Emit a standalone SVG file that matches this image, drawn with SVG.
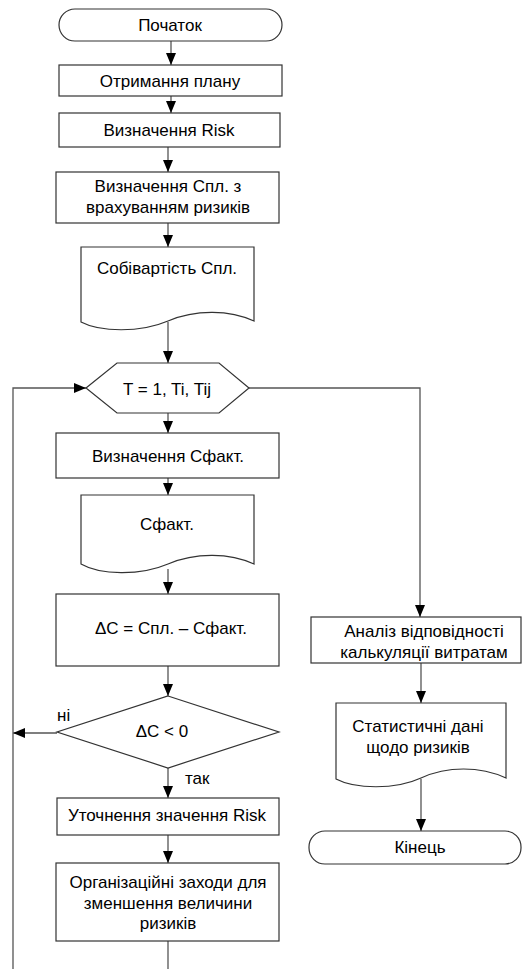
<svg xmlns="http://www.w3.org/2000/svg" width="522" height="969" viewBox="0 0 522 969">
<style>
.s{fill:#fff;stroke:#333;stroke-width:1.2}
.c{fill:none;stroke:#555;stroke-width:1.3}
.t{font-family:"Liberation Sans",Arial,sans-serif;font-size:17px;fill:#000;text-anchor:middle}
.l{font-family:"Liberation Sans",Arial,sans-serif;font-size:17px;fill:#000}
</style>
<defs>
<marker id="a" markerWidth="10" markerHeight="12" refX="10" refY="6" orient="auto" markerUnits="userSpaceOnUse" viewBox="0 0 10 12">
<path d="M0,0 L10,6 L0,12 Z" fill="#000" transform="translate(0,0)"/>
</marker>
<marker id="b" markerWidth="12" markerHeight="10" refX="12" refY="5" orient="auto" markerUnits="userSpaceOnUse" viewBox="0 0 12 10">
<path d="M0,0 L12,5 L0,10 Z" fill="#000"/>
</marker>
</defs>
<g id="connectors">
<path class="c" d="M171,41 V65" marker-end="url(#b)"/>
<path class="c" d="M171,96 V113" marker-end="url(#b)"/>
<path class="c" d="M168,147 V172" marker-end="url(#b)"/>
<path class="c" d="M168,223 V247" marker-end="url(#b)"/>
<path class="c" d="M168,322 V363" marker-end="url(#b)"/>
<path class="c" d="M168,413 V433" marker-end="url(#b)"/>
<path class="c" d="M168,478 V495" marker-end="url(#b)"/>
<path class="c" d="M168,569 V594" marker-end="url(#b)"/>
<path class="c" d="M168,666 V696" marker-end="url(#b)"/>
<path class="c" d="M57,733 H13" marker-end="url(#b)"/>
<path class="c" d="M168,768 V798" marker-end="url(#b)"/>
<path class="c" d="M168,835 V863" marker-end="url(#b)"/>
<path class="c" d="M168,941 V969"/>
<path class="c" d="M13,969 V388 H86" marker-end="url(#b)"/>
<path class="c" d="M249,388 H420 V617" marker-end="url(#b)"/>
<path class="c" d="M421,663 V703" marker-end="url(#b)"/>
<path class="c" d="M421,779 V831" marker-end="url(#b)"/>
<text class="l" x="57" y="721">ні</text>
<text class="l" x="185" y="784">так</text>
</g>
<g id="start">
<rect class="s" x="59" y="9" width="223" height="32" rx="16" ry="16"/>
<text class="t" x="170" y="31">Початок</text>
</g>
<g id="plan">
<rect class="s" x="59" y="65" width="223" height="31"/>
<text class="t" x="170" y="87">Отримання плану</text>
</g>
<g id="risk">
<rect class="s" x="59" y="113" width="221" height="34"/>
<text class="t" x="169" y="136">Визначення Risk</text>
</g>
<g id="cpl">
<rect class="s" x="56" y="172" width="223" height="51"/>
<text class="t" x="168" y="192">Визначення Спл. з</text>
<text class="t" x="168" y="213">врахуванням ризиків</text>
</g>
<g id="doc1">
<path class="s" d="M81,322 V247 H254 V321 C230,310 196,309 168,321 C140,333 100,332 81,322 Z"/>
<text class="t" x="167" y="274">Собівартість Спл.</text>
</g>
<g id="loop">
<polygon class="s" points="86,388 117,363 219,363 249,388 219,413 117,413"/>
<text class="t" x="167" y="395">T = 1, Ti, Tij</text>
</g>
<g id="cfact">
<rect class="s" x="56" y="433" width="223" height="45"/>
<text class="t" x="168" y="462">Визначення Сфакт.</text>
</g>
<g id="doc2">
<path class="s" d="M81,564 V495 H254 V564 C230,553 196,552 168,564 C140,576 100,575 81,564 Z"/>
<text class="t" x="167" y="530">Сфакт.</text>
</g>
<g id="delta">
<rect class="s" x="56" y="594" width="223" height="72"/>
<text class="t" x="171" y="634">ΔC = Спл. – Сфакт.</text>
</g>
<g id="decision">
<polygon class="s" points="168,696 279,732 168,768 57,732"/>
<text class="t" x="162" y="737">ΔC &lt; 0</text>
</g>
<g id="refine">
<rect class="s" x="57" y="798" width="222" height="37"/>
<text class="t" x="167" y="821">Уточнення значення Risk</text>
</g>
<g id="measures">
<rect class="s" x="56" y="863" width="223" height="78"/>
<text class="t" x="168" y="888">Організаційні заходи для</text>
<text class="t" x="168" y="909">зменшення величини</text>
<text class="t" x="168" y="929">ризиків</text>
</g>
<g id="analysis">
<rect class="s" x="311" y="617" width="210" height="46"/>
<text class="t" x="424" y="637">Аналіз відповідності</text>
<text class="t" x="424" y="658">калькуляції витратам</text>
</g>
<g id="doc3">
<path class="s" d="M336,779 V703 H506 V778 C480,766 447,766 421,778 C395,790 355,789 336,779 Z"/>
<text class="t" x="418" y="732">Статистичні дані</text>
<text class="t" x="418" y="753">щодо ризиків</text>
</g>
<g id="end">
<rect class="s" x="309" y="831" width="212" height="33" rx="16" ry="16"/>
<text class="t" x="420" y="853">Кінець</text>
</g>
</svg>
